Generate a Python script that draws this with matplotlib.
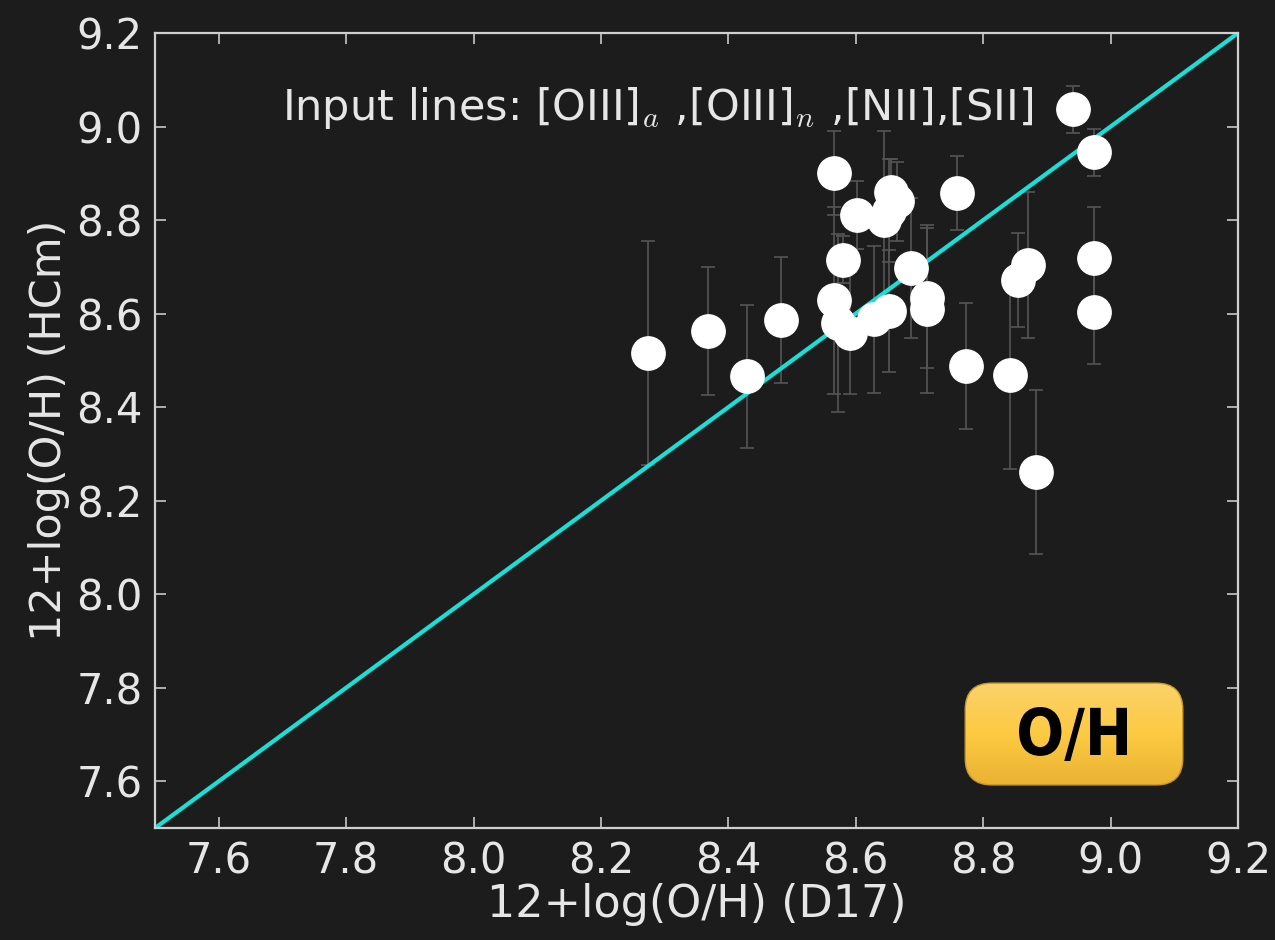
import numpy as np
import matplotlib
matplotlib.use("Agg")
import matplotlib.pyplot as plt
from matplotlib.patches import FancyBboxPatch, PathPatch
from matplotlib.textpath import TextPath
from matplotlib.font_manager import FontProperties
from matplotlib.transforms import Affine2D

# D17 vs HCm oxygen abundances
x_d17 = [8.274, 8.368, 8.429, 8.483, 8.566, 8.602, 8.580, 8.566, 8.572, 8.591,
         8.628, 8.652, 8.655, 8.665, 8.645, 8.652, 8.687, 8.712, 8.712, 8.759,
         8.773, 8.842, 8.855, 8.871, 8.883, 8.941, 8.974, 8.974, 8.974]
y_hcm = [8.516, 8.563, 8.466, 8.586, 8.901, 8.811, 8.715, 8.629, 8.580, 8.558,
         8.588, 8.605, 8.860, 8.840, 8.800, 8.820, 8.697, 8.633, 8.610, 8.858,
         8.488, 8.468, 8.672, 8.704, 8.261, 9.037, 8.945, 8.719, 8.603]
y_err = [0.240, 0.137, 0.153, 0.135, 0.090, 0.072, 0.050, 0.200, 0.190, 0.130,
         0.157, 0.130, 0.070, 0.085, 0.190, 0.110, 0.150, 0.150, 0.180, 0.080,
         0.135, 0.200, 0.100, 0.156, 0.176, 0.050, 0.050, 0.110, 0.110]

bg = "#1c1c1c"
fg = "#e6e6e6"

plt.rcParams['font.family'] = ['DejaVu Sans']
plt.rcParams['mathtext.fontset'] = 'cm'

fig = plt.figure(figsize=(12.75, 9.4), dpi=100, facecolor=bg)
ax = fig.add_axes([0.1216, 0.1191, 0.8494, 0.8458], facecolor=bg)

ax.plot([7.5, 9.2], [7.5, 9.2], color="#19e0d6", lw=3, zorder=2)
ax.errorbar(x_d17, y_hcm, yerr=y_err, fmt="none", ecolor="#555555",
            elinewidth=1.2, capsize=5, capthick=1.2, zorder=1)
ax.plot(x_d17, y_hcm, "o", ms=24, mfc="white", mec="white", zorder=3)

ax.set_xlim(7.5, 9.2)
ax.set_ylim(7.5, 9.2)
ax.set_xticks(np.arange(7.6, 9.21, 0.2))
ax.set_yticks(np.arange(7.6, 9.21, 0.2))
ax.xaxis.set_major_formatter(matplotlib.ticker.FormatStrFormatter('%.1f'))
ax.yaxis.set_major_formatter(matplotlib.ticker.FormatStrFormatter('%.1f'))
ax.tick_params(direction="in", length=8, width=1.3, colors="#bbbbbb",
               labelcolor=fg, labelsize=30, top=True, right=True, pad=9)
for s in ax.spines.values():
    s.set_color("#cfcfcf")
    s.set_linewidth(1.6)

ax.set_xlabel("12+log(O/H) (D17)", color=fg, fontsize=32, labelpad=0)
ax.set_ylabel("12+log(O/H) (HCm)", color=fg, fontsize=31, labelpad=4)

ax.text(7.70, 9.04, r"Input lines: [OIII]$_a$ ,[OIII]$_n$ ,[NII],[SII]",
        color=fg, fontsize=31, ha="left", va="center", zorder=4)

# O/H badge with gold gradient
bx0, by0, bw, bh = 963 / 1275, 1 - 787 / 940, 222 / 1275, 106 / 940
bax = fig.add_axes([bx0, by0, bw, bh])
bax.axis("off")
grad = np.linspace(0, 1, 256).reshape(-1, 1)
cmap = matplotlib.colors.LinearSegmentedColormap.from_list(
    "gold", ["#fbd26e", "#fdca42", "#e9b232"])
img = bax.imshow(grad, aspect="auto", cmap=cmap, extent=[0, 222, 0, 106],
                 origin="upper")
box = FancyBboxPatch((0.01, 0.02), 0.98, 0.96,
                     boxstyle="round,pad=0,rounding_size=0.12",
                     transform=bax.transAxes, facecolor="none",
                     edgecolor="#c99a2a", lw=1.0, mutation_aspect=bw * 1275 / (bh * 940))
bax.add_patch(box)
img.set_clip_path(box)
bax.set_xlim(0, 222)
bax.set_ylim(0, 106)

# condensed bold label: squeeze a text path horizontally
tp = TextPath((0, 0), "O/H", size=72, prop=FontProperties(family="DejaVu Sans", weight="bold"))
ext = tp.get_extents()
sx, sy = 108 / ext.width, 54 / ext.height
tr = Affine2D().translate(-ext.x0 - ext.width / 2, -ext.y0 - ext.height / 2) \
    .scale(sx, sy).translate(110, 53)
bax.add_patch(PathPatch(tr.transform_path(tp), facecolor="black", edgecolor="none"))

fig.savefig("out.png", dpi=100, facecolor=bg)
